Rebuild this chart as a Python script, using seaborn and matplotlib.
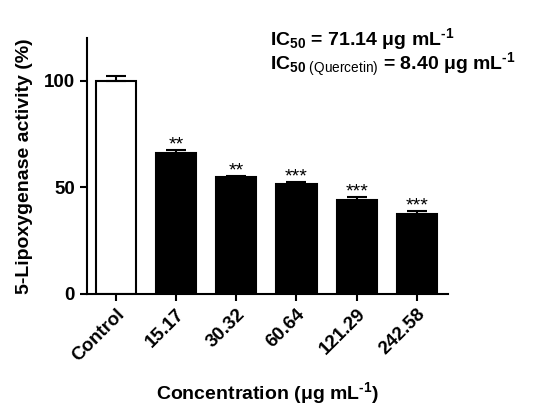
import matplotlib
matplotlib.use("Agg")
import matplotlib.pyplot as plt
import seaborn as sns
import numpy as np

# data
labels = ["Control", "15.17", "30.32", "60.64", "121.29", "242.58"]
activity = [100.0, 66.2, 54.6, 51.5, 44.0, 37.6]
sem = [2.0, 1.1, 0.6, 0.8, 1.4, 1.2]
stars = ["", "**", "**", "***", "***", "***"]
bar_colors = ["white", "black", "black", "black", "black", "black"]

sns.set_style("ticks")
plt.rcParams["font.family"] = ["Liberation Sans", "DejaVu Sans"]
plt.rcParams["mathtext.fontset"] = "custom"
plt.rcParams["mathtext.rm"] = "Liberation Sans:bold"
plt.rcParams["mathtext.it"] = "Liberation Sans:bold"
plt.rcParams["mathtext.bf"] = "Liberation Sans:bold"
plt.rcParams["mathtext.sf"] = "Liberation Sans"
for key in ["text.color", "axes.labelcolor", "xtick.color", "ytick.color",
            "axes.edgecolor"]:
    plt.rcParams[key] = "black"

fig = plt.figure(figsize=(5.5, 4.18), dpi=100)
ax = fig.add_axes([0.158, 0.297, 0.657, 0.612])

sns.barplot(x=labels, y=activity, hue=labels, palette=bar_colors,
            edgecolor="black", linewidth=1.5, width=0.67, legend=False,
            errorbar=None, ax=ax)

xpos = np.arange(len(labels))
ax.errorbar(xpos, activity, yerr=[np.zeros(len(sem)), sem], fmt="none",
            ecolor="black", elinewidth=1.5, capsize=7, capthick=1.5, zorder=5)

for i, s in enumerate(stars):
    if s:
        ax.annotate(s, (xpos[i], activity[i] + sem[i]), xytext=(0, -2.5),
                    textcoords="offset points", ha="center", va="bottom",
                    fontsize=14, fontweight="normal")

ax.set_ylim(0, 120)
ax.set_xlim(-0.48, 5.52)
ax.set_yticks([0, 50, 100])
sns.despine(ax=ax)
for sp in ["left", "bottom"]:
    ax.spines[sp].set_linewidth(1.5)
ax.tick_params(axis="both", direction="out", length=5, width=1.5,
               labelsize=13.5)
for t in ax.get_xticklabels():
    t.set_rotation(45)
    t.set_ha("right")
    t.set_rotation_mode("anchor")
    t.set_fontweight("bold")
for t in ax.get_yticklabels():
    t.set_fontweight("bold")

ax.set_xlabel("Concentration (μg mL$^{\u20101}$)", fontsize=14,
              fontweight="bold", va="center")
ax.set_ylabel("5-Lipoxygenase activity (%)", fontsize=14, fontweight="bold")
ax.xaxis.set_label_coords(0.5, -0.387)
ax.yaxis.set_label_coords(-0.15, 0.5)

fig.text(270 / 550, 1 - 45 / 418, "IC$_{50}$ = 71.14 μg mL$^{\u20101}$",
         fontsize=14, fontweight="bold", va="baseline", ha="left")
fig.text(270 / 550, 1 - 70 / 418,
         "IC$_{50\\ \\mathsf{(Quercetin)}}$ = 8.40 μg mL$^{\u20101}$",
         fontsize=14, fontweight="bold", va="baseline", ha="left")

fig.savefig("out.png", dpi=100)
